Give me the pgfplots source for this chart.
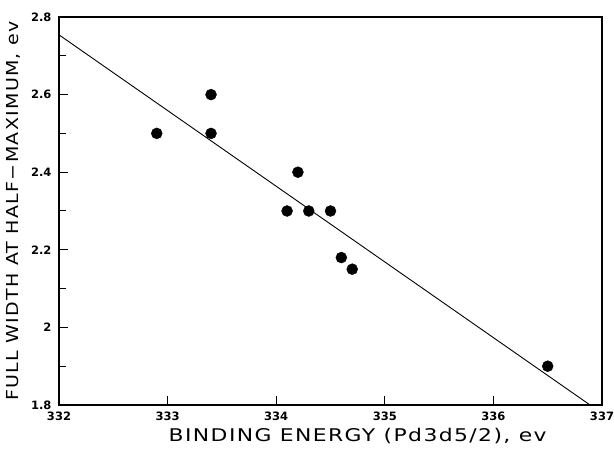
\documentclass[border=0pt]{standalone}
\usepackage{fontspec}
\setmainfont{DejaVu Sans}
\newfontfamily\xlabfont[LetterSpace=8, FakeStretch=1.25]{DejaVu Sans}
\newfontfamily\ylabfont[LetterSpace=8, FakeStretch=1.15]{DejaVu Sans}
\usepackage{pgfplots}
\pgfplotsset{compat=1.18}

\begin{document}
\begin{tikzpicture}
\path[use as bounding box] (-59pt,-45pt) rectangle (555pt,405pt);
\begin{axis}[
  at={(0pt,0pt)}, anchor=south west,
  scale only axis,
  width=543pt, height=388pt,
  xmin=332, xmax=337, ymin=1.8, ymax=2.8,
  xtick={332,333,334,335,336,337},
  ytick={1.8,2,2.2,2.4,2.6,2.8},
  minor y tick num=1,
  tick pos=left, tick align=inside,
  major tick length=9pt, minor tick length=7pt,
  axis line style={line width=1.1pt}, tick style={line width=1pt, black},
  /pgf/number format/assume math mode=true,
  ticklabel style={font=\fontsize{11.5}{13}\selectfont\bfseries},
  yticklabel style={/pgf/number format/fixed, /pgf/number format/precision=1,
                    anchor=east, xshift=-4pt},
  xticklabel style={/pgf/number format/set thousands separator={},
                    anchor=center, yshift=-11pt},
  xlabel={BINDING ENERGY (Pd3d5/2), ev},
  ylabel={FULL WIDTH AT HALF−MAXIMUM,\ ev},
  xlabel style={at={(axis description cs:0.55,-0.079)}, anchor=center,
                font=\fontsize{17.5}{20}\selectfont\xlabfont},
  ylabel style={at={(axis description cs:-0.083,0.5)}, anchor=center,
                font=\fontsize{16.5}{20}\selectfont\ylabfont},
]
% fitted line
\addplot[black, line width=0.9pt] coordinates {(332,2.754) (336.89,1.8)};
% measurements
\addplot[only marks, mark=*, mark size=5.5pt, black] coordinates {
 (332.9,2.5) (333.4,2.6) (333.4,2.5) (334.2,2.4) (334.1,2.3)
 (334.3,2.3) (334.5,2.3) (334.6,2.18) (334.7,2.15) (336.5,1.9)};
\end{axis}
\end{tikzpicture}
\end{document}
